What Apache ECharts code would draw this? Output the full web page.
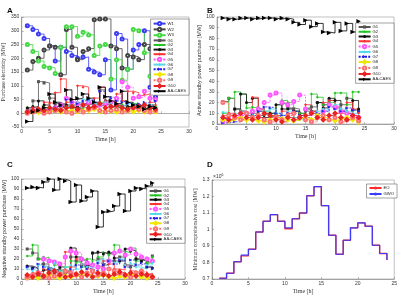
<!DOCTYPE html>
<html>
<head>
<meta charset="utf-8">
<script src="https://cdn.jsdelivr.net/npm/echarts@6/dist/echarts.min.js"></script>
<style>
html, body { margin: 0; padding: 0; background: #fff; }
#chart { width: 400px; height: 295px; }
</style>
</head>
<body>
<div id="chart"></div>
<script>
const hours = [1, 2, 3, 4, 5, 6, 7, 8, 9, 10, 11, 12, 13, 14, 15, 16, 17, 18, 19, 20, 21, 22, 23, 24];

// A - purchase electricity
const aW1 = [318, 305, 288, 272, 245, 190, 240, 225, 210, 200, 205, 160, 150, 140, 195, 85, 290, 270, 160, 230, 250, 300, 95, 60];
const aW2 = [157, 188, 200, 230, 245, 240, 140, 305, 240, 195, 225, 235, 340, 343, 343, 245, 235, 165, 210, 205, 195, 250, 235, 245];
const aW3 = [250, 225, 190, 170, 165, 145, 240, 315, 315, 280, 295, 285, 210, 245, 250, 125, 195, 120, 160, 305, 300, 220, 135, 165];
const aG1 = [15, 45, 115, 110, 55, 35, 35, 20, 20, 15, 30, 35, 30, 85, 45, 40, 30, 25, 20, 25, 20, 15, 20, 15];
const aG2 = [10, 15, 5, 20, 15, 10, 25, 20, 30, 35, 20, 25, 30, 40, 30, 20, 25, 30, 20, 35, 20, 15, 30, 25];
const aG3 = [20, 25, 45, 30, 15, 25, 20, 30, 20, 25, 35, 20, 25, 30, 35, 25, 20, 15, 25, 20, 15, 20, 15, 10];
const aG4 = [10, 20, 15, 40, 35, 75, 125, 40, 30, 100, 95, 35, 55, 95, 45, 40, 70, 45, 80, 75, 65, 70, 40, 30];
const aG5 = [5, 10, 8, 12, 15, 20, 30, 55, 40, 35, 30, 40, 25, 30, 35, 40, 55, 115, 95, 55, 60, 80, 55, 50];
const aG6 = [8, 5, 10, 5, 15, 20, 10, 25, 30, 40, 50, 45, 35, 30, 40, 35, 30, 25, 35, 20, 30, 25, 20, 15];
const aG7 = [5, 10, 12, 15, 10, 20, 25, 50, 40, 35, 45, 50, 40, 80, 60, 55, 45, 40, 35, 30, 35, 40, 30, 45];
const aG8 = [2, 5, 3, 8, 5, 10, 5, 8, 10, 5, 8, 10, 15, 5, 10, 8, 5, 10, 8, 5, 10, 5, 8, 5];
const aG9 = [0, 5, 10, 0, 5, 10, 15, 5, 0, 10, 5, 15, 20, 10, 5, 10, 15, 5, 10, 20, 15, 10, 5, 10];
const aG10 = [5, 10, 15, 10, 20, 15, 10, 20, 25, 15, 30, 20, 25, 35, 20, 25, 30, 20, 15, 20, 25, 30, 20, 15];
const aCaes = [-30, 5, 10, 20, 70, 40, 30, 85, 50, 55, 70, 55, 40, 95, 60, 45, 35, 80, 40, 30, 25, 15, 25, 20];

// B - active standby power purchase
const bG1 = [21, 24, 14, 12, 8, 10, 12, 9, 7, 8, 19, 15, 14, 10, 12, 16, 20, 18, 22, 15, 18, 24, 13, 12];
const bG2 = [10, 24, 30, 28, 15, 16, 14, 12, 10, 18, 22, 20, 12, 10, 15, 28, 25, 18, 20, 29, 29, 18, 30, 30];
const bG3 = [5, 8, 14, 28, 20, 24, 8, 6, 10, 18, 14, 14, 12, 8, 14, 12, 20, 15, 24, 22, 12, 10, 22, 14];
const bG4 = [8, 10, 6, 12, 10, 25, 14, 10, 6, 8, 12, 10, 6, 8, 18, 12, 6, 20, 22, 16, 10, 20, 14, 10];
const bG5 = [2, 4, 6, 8, 10, 12, 14, 20, 27, 29, 20, 18, 21, 27, 14, 10, 8, 12, 18, 16, 12, 10, 8, 6];
const bG6 = [11, 8, 10, 12, 10, 8, 6, 12, 14, 10, 8, 12, 6, 4, 8, 10, 12, 14, 8, 18, 14, 12, 10, 8];
const bG7 = [1, 2, 2, 4, 6, 8, 12, 16, 15, 10, 8, 10, 12, 8, 6, 4, 10, 12, 16, 14, 12, 15, 13, 12];
const bG8 = [4, 3, 5, 6, 4, 5, 3, 2, 4, 6, 5, 4, 3, 5, 6, 4, 8, 6, 4, 3, 5, 6, 4, 2];
const bG9 = [20, 8, 6, 4, 10, 6, 8, 4, 2, 6, 4, 8, 10, 6, 4, 2, 6, 8, 4, 6, 2, 4, 6, 3];
const bG10 = [6, 4, 8, 10, 6, 4, 6, 10, 8, 4, 2, 6, 4, 6, 8, 10, 6, 4, 8, 10, 6, 4, 8, 6];
const bCaes = [99, 98, 98, 99, 99, 98, 99, 99, 99, 98, 99, 98, 95, 93, 97, 91, 94, 86, 85, 95, 87, 94, 86, 96];

// C - negative standby power purchase
const cG1 = [30, 26, 20, 15, 10, 8, 10, 6, 22, 18, 14, 12, 26, 20, 14, 26, 18, 22, 14, 12, 20, 18, 16, 23];
const cG2 = [23, 34, 20, 22, 18, 14, 8, 12, 18, 16, 12, 20, 18, 22, 26, 24, 34, 28, 26, 31, 18, 20, 16, 22];
const cG3 = [13, 11, 3, 9, 7, 5, 12, 8, 31, 22, 19, 14, 26, 27, 25, 27, 21, 18, 30, 28, 20, 18, 12, 11];
const cG4 = [3, 6, 8, 10, 4, 2, 6, 27, 12, 20, 15, 10, 6, 12, 18, 15, 10, 9, 14, 8, 6, 4, 6, 4];
const cG5 = [1, 3, 6, 20, 18, 17, 15, 22, 28, 26, 20, 16, 14, 12, 10, 18, 26, 28, 24, 30, 25, 22, 20, 18];
const cG6 = [10, 8, 14, 12, 10, 16, 8, 12, 14, 10, 15, 12, 10, 18, 20, 18, 16, 20, 14, 16, 12, 10, 14, 16];
const cG7 = [12, 10, 15, 12, 10, 9, 6, 8, 10, 14, 12, 10, 8, 16, 14, 18, 15, 19, 12, 19, 14, 16, 12, 10];
const cG8 = [1, 2, 1, 3, 4, 2, 1, 3, 2, 4, 3, 5, 2, 3, 4, 2, 1, 3, 2, 4, 3, 2, 1, 2];
const cG9 = [2, 4, 6, 2, 1, 3, 5, 8, 6, 4, 2, 6, 8, 4, 6, 10, 8, 6, 4, 2, 6, 8, 4, 2];
const cG10 = [4, 2, 5, 3, 6, 8, 4, 2, 3, 5, 7, 4, 2, 6, 4, 3, 5, 7, 4, 6, 3, 5, 4, 2];
const cCaes = [91, 92, 91, 97, 100, 89, 100, 98, 77, 94, 78, 82, 88, 52, 67, 68, 73, 85, 68, 88, 91, 90, 93, 96];

// D - minimum comprehensive cost (x10^6)
const dEO = [0.705, 0.735, 0.805, 0.84, 0.88, 0.985, 1.05, 1.09, 1.05, 1.005, 1.065, 1.1, 1.205, 1.26, 1.145, 0.965, 0.85, 0.935, 1.01, 1.04, 1.02, 0.905, 0.855, 0.815];
const dGWO = [0.705, 0.735, 0.805, 0.845, 0.88, 0.985, 1.05, 1.09, 1.05, 1.01, 1.065, 1.1, 1.205, 1.26, 1.145, 0.965, 0.85, 0.935, 1.01, 1.04, 1.02, 0.905, 0.855, 0.815];

const genNames = ["G1", "G2", "G3", "G4", "G5", "G6", "G7", "G8", "G9", "G10", "AA-CAES"];
const aNames = ["W1", "W2", "W3"].concat(genNames);

// look of every series by name
const styles = {
    W1: { color: "#3a3af2", symbol: "emptyCircle" },
    W2: { color: "#444444", symbol: "emptyCircle" },
    W3: { color: "#44d844", symbol: "emptyCircle" },
    G1: { color: "#555555", symbol: "rect" },
    G2: { color: "#22c422", symbol: "diamond" },
    G3: { color: "#111111", symbol: "circle" },
    G4: { color: "#ff3030", symbol: "diamond" },
    G5: { color: "#ff55ff", symbol: "emptyCircle", dash: true },
    G6: { color: "#55d8ee", symbol: "diamond" },
    G7: { color: "#2020e8", symbol: "triangle", rot: -90, dash: true },
    G8: { color: "#f2e600", symbol: "emptyDiamond" },
    G9: { color: "#ff6f6f", symbol: "emptyCircle", dash: true },
    G10: { color: "#e82020", symbol: "emptyDiamond" },
    "AA-CAES": { color: "#000000", symbol: "triangle", rot: -90, size: 4.5 },
};

function pairs(values) {
    return values.map(function (v, i) {
        return [hours[i], v];
    });
}

function makeSeries(name, values, idx) {
    let s = styles[name];
    return {
        name: name,
        type: "line",
        step: "end",
        xAxisIndex: idx,
        yAxisIndex: idx,
        data: pairs(values),
        symbol: s.symbol,
        symbolSize: s.size || 3,
        symbolRotate: s.rot || 0,
        color: s.color,
        lineStyle: { width: 0.8, type: s.dash ? [2, 1.2] : "solid" },
        itemStyle: { borderWidth: 0.7 },
        emphasis: { disabled: true },
    };
}

let seriesList = [];
[aW1, aW2, aW3, aG1, aG2, aG3, aG4, aG5, aG6, aG7, aG8, aG9, aG10, aCaes].forEach(function (arr, i) {
    seriesList.push(makeSeries(aNames[i], arr, 0));
});
[bG1, bG2, bG3, bG4, bG5, bG6, bG7, bG8, bG9, bG10, bCaes].forEach(function (arr, i) {
    seriesList.push(makeSeries(genNames[i], arr, 1));
});
[cG1, cG2, cG3, cG4, cG5, cG6, cG7, cG8, cG9, cG10, cCaes].forEach(function (arr, i) {
    seriesList.push(makeSeries(genNames[i], arr, 2));
});
seriesList.push({
    name: "EO", type: "line", step: "end", xAxisIndex: 3, yAxisIndex: 3,
    data: pairs(dEO), symbol: "none", color: "#ff2a2a",
    lineStyle: { width: 1.4 }, emphasis: { disabled: true },
});
seriesList.push({
    name: "GWO", type: "line", step: "end", xAxisIndex: 3, yAxisIndex: 3,
    data: pairs(dGWO), symbol: "none", color: "#3b3bff",
    lineStyle: { width: 1.1 }, emphasis: { disabled: true },
});

const tickFont = { fontSize: 5, color: "#333", fontFamily: "Liberation Sans", margin: 2.5 };
const serif = "Liberation Serif";

function xAx(idx, max) {
    return {
        type: "value", gridIndex: idx, min: 0, max: max, interval: 5,
        name: "Time [h]", nameLocation: "middle", nameGap: 9,
        nameTextStyle: { fontSize: 6, fontFamily: serif, color: "#333" },
        axisLine: { lineStyle: { color: "#777", width: 0.6 } },
        axisTick: { inside: true, length: 2, lineStyle: { color: "#777", width: 0.5 } },
        axisLabel: tickFont,
        splitLine: { show: false },
    };
}

function yAx(idx, min, max, interval, name, font, gap, fmt) {
    return {
        type: "value", gridIndex: idx, min: min, max: max, interval: interval,
        name: name, nameLocation: "middle", nameGap: gap,
        nameTextStyle: { fontSize: 5.5, fontFamily: font, color: "#333" },
        axisLine: { show: true, lineStyle: { color: "#777", width: 0.6 } },
        axisTick: { inside: true, length: 2, lineStyle: { color: "#777", width: 0.5 } },
        axisLabel: Object.assign({}, tickFont, fmt ? { formatter: fmt } : {}),
        splitLine: { show: false },
    };
}

function legendBox(names, pos, itemGap) {
    return Object.assign({
        data: names, orient: "vertical",
        itemWidth: 12, itemHeight: 4, itemGap: itemGap,
        padding: [2, 3, 2, 2],
        backgroundColor: "#fff", borderColor: "#444", borderWidth: 0.5, borderRadius: 0,
        textStyle: { fontSize: 4.2, lineHeight: 4, color: "#222", fontFamily: "Liberation Sans", padding: [0, 0, 0, -3] },
        selectedMode: false,
    }, pos);
}

const chart = echarts.init(document.getElementById("chart"));
chart.setOption({
    animation: false,
    backgroundColor: "#fff",
    title: [
        { text: "A", left: 2, top: 2, textStyle: { fontSize: 8, fontWeight: "bold", color: "#111", fontFamily: "Liberation Sans" } },
        { text: "B", left: 202, top: 2, textStyle: { fontSize: 8, fontWeight: "bold", color: "#111", fontFamily: "Liberation Sans" } },
        { text: "C", left: 2, top: 156, textStyle: { fontSize: 8, fontWeight: "bold", color: "#111", fontFamily: "Liberation Sans" } },
        { text: "D", left: 202, top: 156, textStyle: { fontSize: 8, fontWeight: "bold", color: "#111", fontFamily: "Liberation Sans" } },
    ],
    grid: [
        { left: 16, top: 17, width: 173, height: 110, show: true, borderColor: "#999", borderWidth: 0.6 },
        { left: 217, top: 17, width: 177, height: 107, show: true, borderColor: "#999", borderWidth: 0.6 },
        { left: 17, top: 179, width: 168, height: 103, show: true, borderColor: "#999", borderWidth: 0.6 },
        { left: 212, top: 180, width: 185, height: 100, show: true, borderColor: "#999", borderWidth: 0.6 },
    ],
    xAxis: [xAx(0, 30), xAx(1, 30), xAx(2, 30), xAx(3, 25)],
    yAxis: [
        yAx(0, -50, 350, 50, "Purchase electricity [MW]", serif, 9),
        yAx(1, 0, 100, 10, "Active standby power purchase [MW]", "Liberation Sans", 8),
        yAx(2, 0, 100, 10, "Negative standby power purchase [MW]", "Liberation Sans", 8),
        yAx(3, 0.7, 1.3, 0.1, "Minimum comprehensive cost [MW]", serif, 10, function (v) {
            return String(+v.toFixed(1));
        }),
    ],
    legend: [
        legendBox(aNames, { right: 211, top: 19 }, 0.6),
        legendBox(genNames, { right: 6, top: 23 }, 0.75),
        legendBox(genNames, { right: 215, top: 187 }, 0.35),
        legendBox(["EO", "GWO"], { right: 3, top: 184 }, 2),
    ],
    graphic: [
        {
            type: "text", left: 213, top: 173,
            style: {
                text: "{a|\u00d710}{b|6}",
                rich: {
                    a: { fontSize: 5, fontFamily: "Liberation Sans", fill: "#333" },
                    b: { fontSize: 3.5, fontFamily: "Liberation Sans", fill: "#333", verticalAlign: "top", padding: [0, 0, 3, 0] },
                },
            },
        },
    ],
    series: seriesList,
});
</script>
</body>
</html>
